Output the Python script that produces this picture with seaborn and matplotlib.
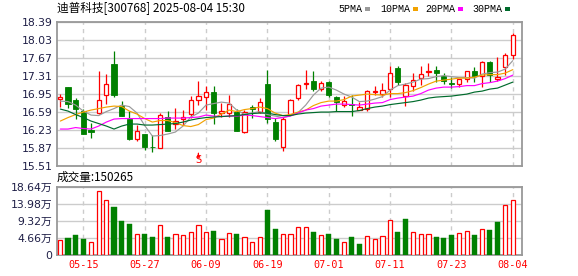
import numpy as np
import pandas as pd
import matplotlib
matplotlib.use('Agg')
import matplotlib.pyplot as plt
import seaborn as sns
import matplotlib.transforms as mtransforms
from matplotlib.patches import Rectangle

sns.set_theme(style='white')
plt.rcParams['font.family'] = ['Noto Sans CJK SC', 'DejaVu Sans']
plt.rcParams['xtick.labelsize'] = 7.3
plt.rcParams['ytick.labelsize'] = 7.8

# ---------------- data ----------------
dates = ['05-12', '05-13', '05-14', '05-15', '05-16', '05-19', '05-20', '05-21', '05-22', '05-23',
         '05-26', '05-27', '05-28', '05-29', '05-30', '06-03', '06-04', '06-05', '06-06', '06-09',
         '06-10', '06-11', '06-12', '06-13', '06-16', '06-17', '06-18', '06-19', '06-20', '06-23',
         '06-24', '06-25', '06-26', '06-27', '06-30', '07-01', '07-02', '07-03', '07-04', '07-07',
         '07-08', '07-09', '07-10', '07-11', '07-14', '07-15', '07-16', '07-17', '07-18', '07-21',
         '07-22', '07-23', '07-24', '07-25', '07-28', '07-29', '07-30', '07-31', '08-01', '08-04']

opens = [16.85, 17.08, 16.82, 16.60, 16.22, 16.56, 16.92, 17.54, 16.71, 16.45,
         16.05, 16.14, 15.89, 15.86, 16.48, 16.35, 16.44, 16.55, 16.82, 16.88,
         16.98, 16.56, 16.57, 16.59, 16.18, 16.68, 16.58, 17.15, 16.38, 15.88,
         16.54, 16.86, 17.14, 17.20, 17.05, 17.18, 16.88, 16.73, 16.74, 16.63,
         16.65, 16.99, 16.94, 17.04, 17.46, 16.90, 17.10, 17.26, 17.39, 17.42,
         17.31, 17.16, 17.14, 17.24, 17.40, 17.30, 17.58, 17.24, 17.48, 17.72]
closes = [16.88, 16.74, 16.64, 16.15, 16.19, 16.82, 17.14, 16.93, 16.50, 16.05,
          16.20, 15.89, 15.88, 16.52, 16.20, 16.40, 16.48, 16.82, 16.90, 16.98,
          16.57, 16.61, 16.74, 16.20, 16.58, 16.65, 16.78, 16.44, 16.04, 16.45,
          16.82, 17.12, 17.16, 17.05, 17.16, 16.93, 16.78, 16.80, 16.73, 16.69,
          17.00, 17.00, 17.03, 17.36, 17.18, 17.12, 17.22, 17.34, 17.41, 17.37,
          17.20, 17.15, 17.24, 17.40, 17.31, 17.58, 17.32, 17.28, 17.73, 18.12]
highs = [16.94, 17.09, 16.86, 16.64, 16.36, 17.40, 17.34, 17.80, 16.80, 16.60,
         16.32, 16.14, 16.12, 16.57, 16.60, 16.66, 16.62, 16.90, 17.20, 17.10,
         17.10, 16.76, 16.92, 16.64, 16.62, 16.72, 16.87, 17.43, 16.46, 16.49,
         16.84, 17.15, 17.42, 17.41, 17.21, 17.20, 16.90, 16.90, 16.92, 16.78,
         17.02, 17.10, 17.16, 17.51, 17.50, 17.17, 17.36, 17.50, 17.56, 17.50,
         17.36, 17.29, 17.25, 17.41, 17.49, 17.61, 17.61, 17.69, 17.76, 18.17]
lows = [16.69, 16.67, 16.45, 16.14, 16.07, 16.55, 16.75, 16.88, 16.50, 16.02,
        16.01, 15.82, 15.78, 15.86, 16.20, 16.25, 16.32, 16.46, 16.72, 16.62,
        16.34, 16.49, 16.48, 16.20, 16.17, 16.47, 16.56, 16.37, 16.01, 15.81,
        16.52, 16.82, 17.04, 17.00, 17.00, 16.89, 16.61, 16.69, 16.50, 16.62,
        16.60, 16.92, 16.89, 16.89, 17.12, 16.71, 17.00, 17.12, 17.31, 17.19,
        17.14, 17.07, 17.08, 17.18, 17.19, 17.09, 17.19, 17.20, 17.33, 17.64]

ma5 = [16.80, 16.79, 16.72, 16.60, 16.52, 16.51, 16.59, 16.65, 16.72, 16.69,
       16.56, 16.31, 16.10, 16.11, 16.14, 16.18, 16.30, 16.48, 16.56, 16.72,
       16.75, 16.78, 16.76, 16.62, 16.54, 16.56, 16.59, 16.53, 16.50, 16.47,
       16.51, 16.57, 16.72, 16.92, 17.06, 17.08, 17.02, 16.94, 16.88, 16.79,
       16.80, 16.84, 16.89, 17.02, 17.11, 17.14, 17.18, 17.24, 17.25, 17.29,
       17.31, 17.29, 17.27, 17.27, 17.26, 17.34, 17.37, 17.38, 17.44, 17.61]
ma10 = [16.40, 16.47, 16.53, 16.58, 16.62, 16.65, 16.68, 16.70, 16.69, 16.60,
        16.54, 16.45, 16.38, 16.41, 16.41, 16.37, 16.31, 16.29, 16.33, 16.43,
        16.46, 16.54, 16.62, 16.59, 16.63, 16.65, 16.68, 16.65, 16.56, 16.51,
        16.53, 16.58, 16.62, 16.71, 16.77, 16.80, 16.80, 16.83, 16.90, 16.92,
        16.94, 16.93, 16.92, 16.95, 16.95, 16.97, 17.01, 17.07, 17.14, 17.20,
        17.22, 17.24, 17.26, 17.26, 17.28, 17.32, 17.33, 17.33, 17.36, 17.43]
ma20 = [16.24, 16.24, 16.27, 16.25, 16.24, 16.30, 16.38, 16.44, 16.45, 16.45,
        16.45, 16.45, 16.45, 16.45, 16.46, 16.46, 16.46, 16.47, 16.48, 16.52,
        16.50, 16.49, 16.50, 16.50, 16.52, 16.51, 16.49, 16.47, 16.45, 16.47,
        16.50, 16.56, 16.62, 16.65, 16.70, 16.72, 16.74, 16.74, 16.73, 16.72,
        16.74, 16.76, 16.77, 16.83, 16.86, 16.88, 16.90, 16.95, 17.02, 17.06,
        17.08, 17.08, 17.09, 17.11, 17.11, 17.15, 17.17, 17.20, 17.25, 17.32]
ma30 = [16.64, 16.60, 16.53, 16.47, 16.40, 16.35, 16.30, 16.24, 16.30, 16.34,
        16.34, 16.32, 16.32, 16.33, 16.34, 16.35, 16.38, 16.42, 16.45, 16.47,
        16.48, 16.49, 16.50, 16.51, 16.53, 16.55, 16.56, 16.56, 16.53, 16.51,
        16.51, 16.54, 16.56, 16.57, 16.58, 16.58, 16.59, 16.59, 16.59, 16.61,
        16.65, 16.68, 16.70, 16.73, 16.75, 16.77, 16.79, 16.82, 16.86, 16.88,
        16.89, 16.90, 16.92, 16.94, 16.98, 17.00, 17.04, 17.06, 17.12, 17.18]

# volume in 万 (10k shares)
volumes = [4.10, 4.65, 5.47, 4.38, 3.56, 17.42, 14.96, 13.13, 9.30, 8.48,
           5.75, 5.75, 4.92, 8.12, 4.92, 5.75, 5.38, 6.29, 8.12, 6.29,
           6.57, 4.29, 6.02, 5.75, 4.92, 3.56, 4.92, 12.31, 7.11, 5.75,
           5.75, 7.57, 7.57, 6.29, 5.38, 5.75, 4.38, 3.47, 4.92, 3.01,
           5.11, 4.29, 5.11, 9.48, 6.29, 9.85, 6.29, 5.75, 5.75, 4.92,
           4.65, 5.47, 6.02, 6.57, 5.47, 7.11, 6.84, 8.85, 13.68, 15.03]
vol_dir = ['r', 'g', 'g', 'g', 'r', 'r', 'r', 'g', 'g', 'g',
           'r', 'g', 'g', 'r', 'g', 'r', 'r', 'r', 'r', 'r',
           'g', 'r', 'r', 'g', 'r', 'r', 'r', 'g', 'g', 'r',
           'r', 'r', 'r', 'g', 'r', 'g', 'g', 'r', 'g', 'g',
           'r', 'r', 'r', 'r', 'g', 'g', 'r', 'r', 'r', 'g',
           'g', 'g', 'r', 'r', 'g', 'r', 'g', 'g', 'r', 'r']

price_ticks = ['15.51', '15.87', '16.23', '16.59', '16.95', '17.31', '17.67', '18.03', '18.39']
vol_ticks = ['0', '4.66', '9.32', '13.98', '18.64']
date_ticks = ['05-15', '05-27', '06-09', '06-19', '07-01', '07-11', '07-23', '08-04']
ma_names = ['5PMA', '10PMA', '20PMA', '30PMA']

title = '迪普科技[300768] 2025-08-04 15:30'
vol_title = '成交量:150265'
signal_date = '06-06'

# ---------------- styling ----------------
RED = '#ff0000'
GREEN = '#008000'
MA_COLORS = ['#9a9a9a', '#f2a200', '#ff00ff', '#006b2c']
GRID = '#cccccc'
SPINE = '#999999'
TICKC = '#1e1e46'

W, H = 578, 276
fig = plt.figure(figsize=(W / 100, H / 100), dpi=100)
fig.patch.set_facecolor('white')

L, R = 56.5, 522.0
ax_p = fig.add_axes([L / W, (H - 165.5) / H, (R - L) / W, (165.5 - 21.7) / H])
ax_v = fig.add_axes([L / W, (H - 254.7) / H, (R - L) / W, (254.7 - 186.7) / H])

df = pd.DataFrame({'date': dates, 'open': opens, 'close': closes, 'high': highs,
                   'low': lows, 'vol': volumes, 'vdir': vol_dir,
                   'ma5': ma5, 'ma10': ma10, 'ma20': ma20, 'ma30': ma30})
df['idx'] = np.arange(len(df))
pos = {d: i for i, d in enumerate(dates)}
xt = [pos[d] for d in date_ticks]

for ax in (ax_p, ax_v):
    ax.set_facecolor('white')
    for s in ax.spines.values():
        s.set_color(SPINE)
        s.set_linewidth(1.3)

# ---- price panel ----
pt = [float(t) for t in price_ticks]
ax_p.grid(True, axis='y', color=GRID, lw=1.0, zorder=0)
ax_p.grid(True, axis='x', color=GRID, lw=1.0, ls=(0, (3, 3)), zorder=0)
ax_p.set_axisbelow(True)

up = df['close'] >= df['open']
ccol = np.where(up, RED, GREEN)
ax_p.vlines(df['idx'], df['low'], df['high'], colors=ccol, lw=0.9, zorder=2)
body_lo = np.minimum(df['open'], df['close'])
body_h = np.abs(df['close'] - df['open'])
ax_p.bar(df['idx'][up], body_h[up], bottom=body_lo[up], width=0.56,
         facecolor='white', edgecolor=RED, linewidth=0.9, zorder=3)
ax_p.bar(df['idx'][~up], body_h[~up], bottom=body_lo[~up], width=0.66,
         facecolor=GREEN, edgecolor=GREEN, linewidth=0.6, zorder=3)

for name, c in zip(['ma5', 'ma10', 'ma20', 'ma30'], MA_COLORS):
    sns.lineplot(data=df, x='idx', y=name, ax=ax_p, color=c, lw=0.85, zorder=4)
ax_p.set_xlabel('')
ax_p.set_ylabel('')
ax_p.set_xlim(-0.5, 60.2)
ax_p.set_ylim(pt[0], pt[-1])
ax_p.set_xticks(xt)
ax_p.set_xticklabels([])
ax_p.set_yticks(pt)
ax_p.set_yticklabels(price_ticks, fontsize=7.8, color=TICKC, family='DejaVu Sans')
ax_p.tick_params(axis='both', length=0, pad=3)

# signal marker
trans = mtransforms.blended_transform_factory(ax_p.transData, ax_p.transAxes)
si = pos[signal_date]
ax_p.text(si, 0.038, 'S', color=RED, fontsize=7, ha='center', va='center',
          transform=trans, family='DejaVu Sans')
ax_p.annotate('', xy=(si, 0.105), xytext=(si, 0.065), xycoords=trans, textcoords=trans,
              arrowprops=dict(arrowstyle='-|>', color=RED, lw=0.8, mutation_scale=5))

# ---- volume panel ----
vt = [float(t) for t in vol_ticks]
ax_v.grid(True, axis='y', color=GRID, lw=1.0, zorder=0)
ax_v.grid(True, axis='x', color=GRID, lw=1.0, ls=(0, (3, 3)), zorder=0)
ax_v.set_axisbelow(True)
vup = df[df['vdir'] == 'r']
vdn = df[df['vdir'] == 'g']
sns.barplot(data=vup, x='idx', y='vol', native_scale=True, width=0.56, color='white',
            edgecolor=RED, linewidth=0.9, saturation=1, errorbar=None, ax=ax_v, zorder=3)
sns.barplot(data=vdn, x='idx', y='vol', native_scale=True, width=0.66, color=GREEN,
            edgecolor=GREEN, linewidth=0.3, saturation=1, errorbar=None, ax=ax_v, zorder=3)
ax_v.set_xlabel('')
ax_v.set_ylabel('')
ax_v.set_xlim(-0.5, 60.2)
ax_v.set_ylim(vt[0], vt[-1])
ax_v.set_yticks(vt)
ax_v.set_yticklabels([t if t == '0' else t + '万' for t in vol_ticks], fontsize=7.8,
                     color=TICKC, family=['DejaVu Sans', 'Noto Sans CJK SC'])
ax_v.set_xticks(xt)
ax_v.set_xticklabels(date_ticks, fontsize=7.3, color=RED, family='DejaVu Sans Mono')
ax_v.tick_params(axis='both', length=0)
ax_v.tick_params(axis='y', pad=3)
ax_v.tick_params(axis='x', pad=4)

# ---- texts ----
fig.text(57 / W, 1 - 8 / H, title, fontsize=8.4, color='black', ha='left', va='center')
fig.text(57 / W, 1 - 177 / H, vol_title, fontsize=8.4, color='black', ha='left', va='center')

leg_x = [338, 380, 425, 472]
for name, c, x0 in zip(ma_names, MA_COLORS, leg_x):
    fig.text(x0 / W, 1 - 8.5 / H, name, fontsize=7.2, color='black', ha='left',
             va='center', family='Liberation Mono')
    wtxt = len(name) * 6.0
    fig.patches.append(Rectangle(((x0 + wtxt + 3) / W, 1 - 10.5 / H), 5 / W, 3 / H,
                                 transform=fig.transFigure, facecolor=c, edgecolor='none'))

fig.savefig('out.png', dpi=100, facecolor='white')
